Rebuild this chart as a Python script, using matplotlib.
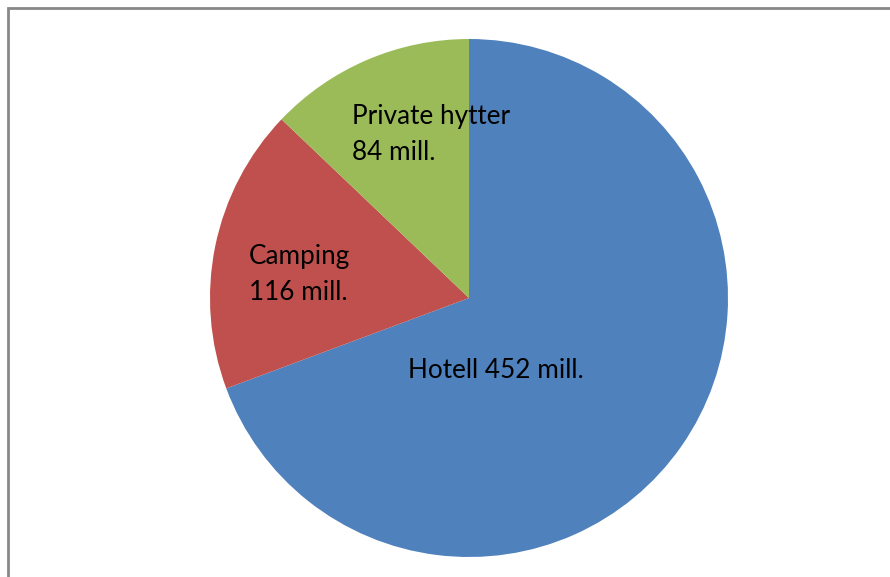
import matplotlib
matplotlib.use("Agg")
import matplotlib.pyplot as plt
from matplotlib.patches import Rectangle

# data
labels = ["Hotell", "Camping", "Private hytter"]
values = [452, 116, 84]
colors = ["#4F81BD", "#C0504D", "#9BBB59"]

W, H = 890, 577
fig = plt.figure(figsize=(W / 100, H / 100), dpi=100)

# pie centre (469, 298) px, radius 259 px
cx, cy, r = 469, 298, 259
ax = fig.add_axes([(cx - r) / W, (H - cy - r) / H, 2 * r / W, 2 * r / H])
ax.pie(values, colors=colors, startangle=90, counterclock=False, radius=1,
       wedgeprops=dict(linewidth=0))
ax.set_xlim(-1, 1)
ax.set_ylim(-1, 1)
ax.axis("off")

font = dict(family=["Lato", "DejaVu Sans"], fontsize=18.8, color="black")
ax.text(0.104, -0.278, f"{labels[0]} {values[0]} mill.", ha="center", va="center", **font)
ax.text(-0.849, 0.089, f"{labels[1]}\n{values[1]} mill.", ha="left", va="center",
        linespacing=1.55, **font)
ax.text(-0.452, 0.631, f"{labels[2]}\n{values[2]} mill.", ha="left", va="center",
        linespacing=1.55, **font)

# outer frame
fig.patches.append(Rectangle((8 / W, -0.1), 1.2, 1.1 - 8 / H, transform=fig.transFigure,
                             fill=False, edgecolor="#888888", linewidth=2))

fig.savefig("out.png", dpi=100)
